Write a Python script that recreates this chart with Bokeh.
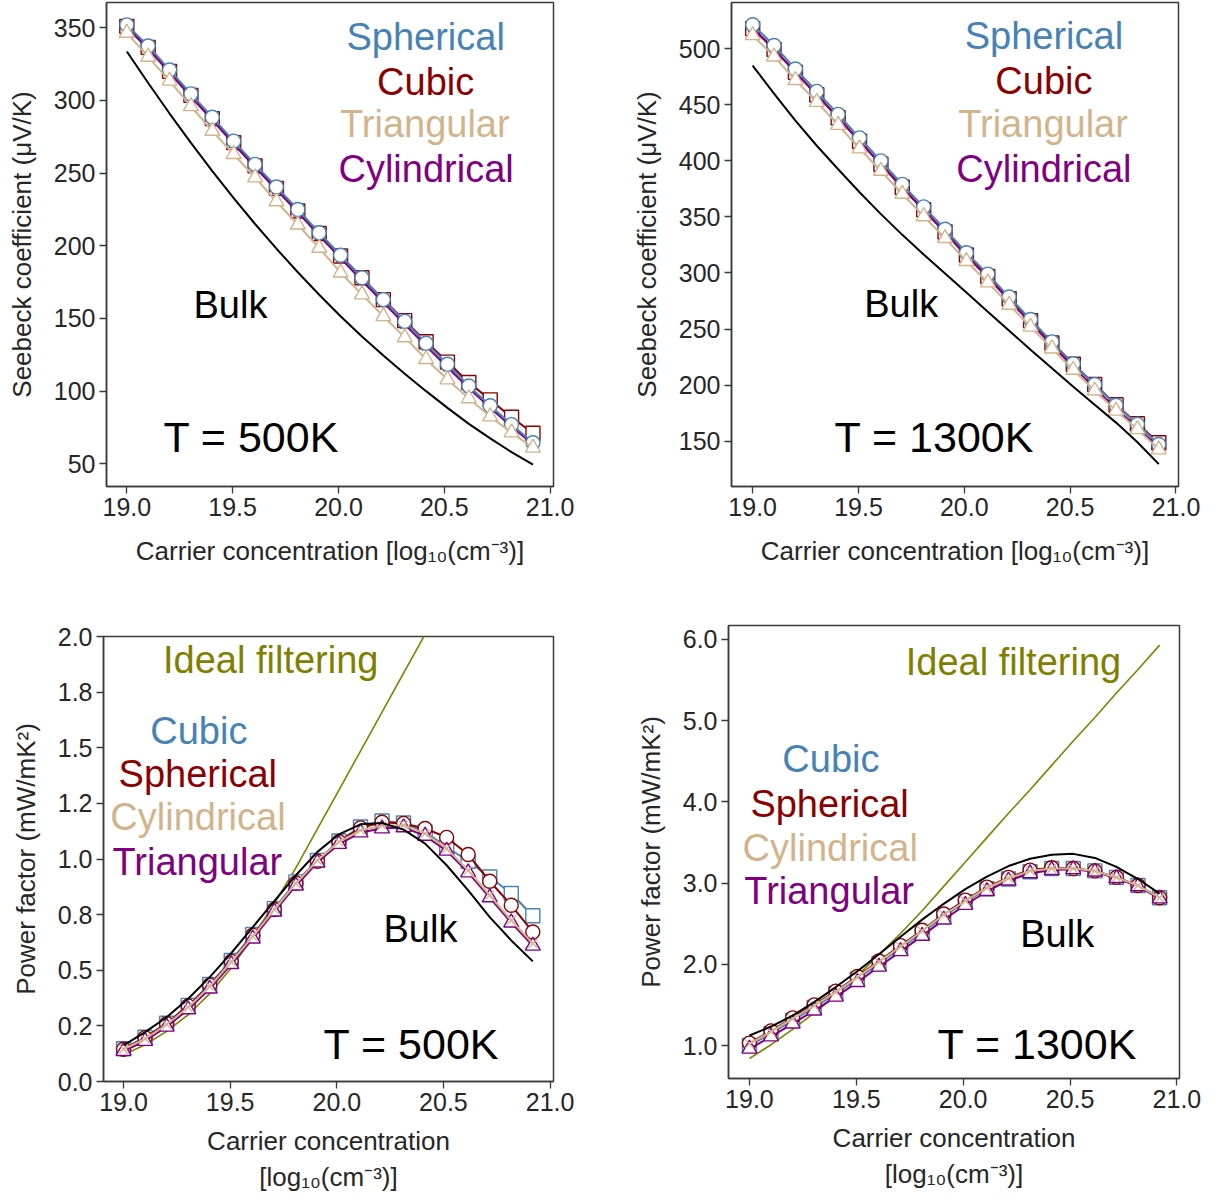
from bokeh.plotting import figure
from bokeh.layouts import column, row
from bokeh.models import Label, FixedTicker, Range1d
from bokeh.embed import file_html
from bokeh.resources import INLINE

# ---------------- data ----------------
carrier = [19.000, 19.101, 19.202, 19.303, 19.404, 19.505, 19.606, 19.707, 19.808, 19.909,
           20.010, 20.111, 20.212, 20.313, 20.414, 20.515, 20.616, 20.717, 20.818, 20.919]

# Seebeck coefficient (uV/K), T = 500 K
s500_spherical = [352, 337.5, 321, 304.5, 288.5, 272, 256, 240.5, 225, 209,
                  193.5, 178, 163, 148, 133, 118.5, 103.5, 90, 77, 64.5]
s500_cubic = [351, 336.5, 320, 303.5, 287.5, 271, 255, 239.5, 224, 208.5,
              193, 178, 163, 148.5, 134, 120, 106, 94, 82, 71]
s500_triangular = [346.5, 330, 313.5, 296, 279, 263, 247, 230.5, 214.5, 198.5,
                   181.5, 166.5, 151.5, 137, 122, 108, 95, 82.5, 71.5, 61]
s500_cylindrical = [350, 335.5, 319, 302.5, 286.5, 270, 254, 238.5, 223, 207,
                    191.5, 176, 161, 146, 131, 116.5, 102, 88.5, 75.5, 63.5]
s500_bulk = [333.7, 312, 291, 270.8, 251.4, 232.8, 215, 198, 181.8, 166.3,
             151.5, 137.6, 124.5, 112, 100, 88.5, 77.5, 67.5, 58, 49.5]

# Seebeck coefficient (uV/K), T = 1300 K
s1300_spherical = [521.5, 503, 482, 462, 441.5, 420.5, 400, 379, 359, 339,
                   318, 299, 278.5, 258.5, 238.5, 219, 200.5, 182, 165, 147]
s1300_cubic = [518, 499.5, 479, 459, 438.5, 417.5, 397, 376.5, 356.5, 336.5,
               316, 297, 277, 257.5, 237.5, 218.5, 200.5, 182.5, 165.5, 148.5]
s1300_triangular = [512, 493, 472, 452.5, 432, 411, 391, 370.5, 350.5, 331,
                    310.5, 291.5, 271.5, 252, 232.5, 213.5, 195, 177, 160.5, 142.5]
s1300_cylindrical = [518.5, 500, 479, 459, 438.5, 417.5, 397, 376, 356, 336,
                     315, 296, 275.5, 255.5, 235.5, 216, 197.5, 179, 162, 144.5]
s1300_bulk = [485, 460, 436, 413.5, 392.5, 372, 352.5, 334, 316.5, 299.5,
              282.5, 265.5, 248.5, 231.5, 215, 198.5, 182.5, 166.5, 149, 129.5]

# Power factor (mW/mK^2), T = 500 K
pf500_cubic = [0.147, 0.199, 0.262, 0.342, 0.436, 0.544, 0.661, 0.777, 0.897, 0.994,
               1.081, 1.144, 1.171, 1.162, 1.122, 1.054, 0.990, 0.919, 0.845, 0.745]
pf500_spherical = [0.145, 0.197, 0.260, 0.340, 0.433, 0.540, 0.657, 0.773, 0.892, 0.990,
                   1.078, 1.140, 1.165, 1.160, 1.137, 1.097, 1.020, 0.900, 0.792, 0.672]
pf500_cylindrical = [0.145, 0.192, 0.256, 0.334, 0.427, 0.537, 0.652, 0.773, 0.890, 0.994,
                     1.077, 1.129, 1.150, 1.152, 1.114, 1.047, 0.949, 0.837, 0.724, 0.620]
pf500_triangular = [0.137, 0.182, 0.246, 0.324, 0.417, 0.527, 0.642, 0.763, 0.880, 0.984,
                    1.067, 1.119, 1.137, 1.142, 1.104, 1.037, 0.939, 0.827, 0.714, 0.610]
pf500_bulk = [0.162, 0.222, 0.289, 0.372, 0.469, 0.577, 0.694, 0.811, 0.927, 1.032,
              1.111, 1.156, 1.162, 1.132, 1.069, 0.972, 0.859, 0.739, 0.634, 0.540]
pf500_ideal = [0.120, 0.165, 0.225, 0.300, 0.395, 0.510, 0.650, 0.800, 0.960, 1.135,
               1.310, 1.485, 1.660, 1.835, 2.010, 2.185, 2.360, 2.535, 2.710, 2.885]

# Power factor (mW/mK^2), T = 1300 K
pf1300_cubic = [1.00, 1.15, 1.31, 1.47, 1.64, 1.82, 2.01, 2.20, 2.39, 2.59,
                2.77, 2.93, 3.05, 3.14, 3.18, 3.18, 3.15, 3.07, 2.97, 2.82]
pf1300_spherical = [1.03, 1.18, 1.34, 1.50, 1.67, 1.85, 2.04, 2.23, 2.42, 2.62,
                    2.79, 2.95, 3.07, 3.16, 3.19, 3.18, 3.15, 3.07, 2.97, 2.82]
pf1300_cylindrical = [1.02, 1.17, 1.33, 1.49, 1.66, 1.84, 2.03, 2.22, 2.41, 2.61,
                      2.78, 2.94, 3.06, 3.15, 3.18, 3.18, 3.15, 3.07, 2.97, 2.82]
pf1300_triangular = [0.96, 1.11, 1.27, 1.43, 1.60, 1.78, 1.97, 2.16, 2.35, 2.55,
                     2.73, 2.90, 3.03, 3.12, 3.16, 3.17, 3.14, 3.06, 2.96, 2.81]
pf1300_bulk = [1.123, 1.234, 1.369, 1.535, 1.720, 1.915, 2.125, 2.340, 2.550, 2.745,
               2.925, 3.080, 3.210, 3.300, 3.350, 3.360, 3.310, 3.200, 3.050, 2.870]
pf1300_ideal = [0.84, 1.01, 1.20, 1.40, 1.62, 1.86, 2.12, 2.38, 2.66, 2.96,
                3.26, 3.56, 3.86, 4.15, 4.45, 4.75, 5.04, 5.34, 5.63, 5.93]

x_ticks = [19.0, 19.5, 20.0, 20.5, 21.0]
x_tick_labels = ["19.0", "19.5", "20.0", "20.5", "21.0"]
s500_ticks = [50, 100, 150, 200, 250, 300, 350]
s500_tick_labels = ["50", "100", "150", "200", "250", "300", "350"]
s1300_ticks = [150, 200, 250, 300, 350, 400, 450, 500]
s1300_tick_labels = ["150", "200", "250", "300", "350", "400", "450", "500"]
pf500_ticks = [0.0, 0.25, 0.5, 0.75, 1.0, 1.25, 1.5, 1.75, 2.0]
pf500_tick_labels = ["0.0", "0.2", "0.5", "0.8", "1.0", "1.2", "1.5", "1.8", "2.0"]
pf1300_ticks = [1.0, 2.0, 3.0, 4.0, 5.0, 6.0]
pf1300_tick_labels = ["1.0", "2.0", "3.0", "4.0", "5.0", "6.0"]

# ---------------- style ----------------
FONT = "Liberation Sans"
TXT = "#262626"
SPINE = "#3a3a3a"
BLUE, RED, TAN, PURPLE, OLIVE = "#4682b4", "#8b0000", "#d2b48c", "#800080", "#808000"
XLABEL1 = "Carrier concentration [log\u2081\u2080(cm\u207b\u00b3)]"
XLABEL2 = "Carrier concentration\n[log\u2081\u2080(cm\u207b\u00b3)]"
LEG = "38px"
TEMP = "43px"


def make_fig(xr, yr, fw, fh, bl, br, bt, bb, yticks, ylabels, ylabel, xlabel, xstand):
    p = figure(frame_width=fw, frame_height=fh,
               min_border_left=bl, min_border_right=br,
               min_border_top=bt, min_border_bottom=bb,
               x_range=Range1d(*xr), y_range=Range1d(*yr),
               output_backend="svg", toolbar_location=None, tools="")
    p.grid.visible = False
    p.outline_line_color = SPINE
    p.outline_line_width = 1.5
    p.outline_line_alpha = 1.0
    p.background_fill_color = "white"
    p.border_fill_color = "white"
    for ax in (p.xaxis[0], p.yaxis[0]):
        ax.axis_line_color = SPINE
        ax.axis_line_width = 1.5
        ax.major_tick_line_color = SPINE
        ax.major_tick_line_width = 1.3
        ax.major_tick_out = 7
        ax.major_tick_in = 0
        ax.minor_tick_line_color = None
        ax.major_label_text_font = FONT
        ax.major_label_text_font_size = "25px"
        ax.major_label_text_color = TXT
        ax.major_label_standoff = 4
        ax.axis_label_text_font = FONT
        ax.axis_label_text_font_size = "26px"
        ax.axis_label_text_font_style = "normal"
        ax.axis_label_text_color = TXT
    p.xaxis[0].ticker = FixedTicker(ticks=x_ticks)
    p.xaxis[0].major_label_overrides = dict(zip(x_ticks, x_tick_labels))
    p.yaxis[0].ticker = FixedTicker(ticks=yticks)
    p.yaxis[0].major_label_overrides = dict(zip(yticks, ylabels))
    p.xaxis[0].axis_label = xlabel
    p.yaxis[0].axis_label = ylabel
    p.xaxis[0].axis_label_standoff = xstand
    p.yaxis[0].axis_label_standoff = 14
    return p


def series(p, y, color, marker, size):
    p.line(carrier, y, line_color=color, line_width=2)
    if marker == "x":
        p.scatter(carrier, y, marker="x", size=size, line_color=color, line_width=1.3)
    else:
        p.scatter(carrier, y, marker=marker, size=size, line_color=color,
                  fill_color="white", line_width=1.4)


def label(p, x, y, text, color, size, align):
    # y_offset lifts the text baseline to where the reference draws it
    p.add_layout(Label(x=x, y=y, y_offset=13, text=text, text_font=FONT,
                       text_font_size=size, text_color=color, text_align=align,
                       text_baseline="alphabetic"))


# ---------------- panel 1: Seebeck 500K ----------------
p1 = make_fig((18.904, 21.016), (34.4, 367.4), 447, 484, 106, 57, 2, 114,
              s500_ticks, s500_tick_labels, "Seebeck coefficient (\u03bcV/K)", XLABEL1, 17)
series(p1, s500_cubic, RED, "square", 14)
series(p1, s500_cylindrical, PURPLE, "x", 12)
series(p1, s500_spherical, BLUE, "circle", 14)
series(p1, s500_triangular, TAN, "triangle", 15)
p1.line(carrier, s500_bulk, line_color="black", line_width=2)
label(p1, 20.412, 334.4, "Spherical", BLUE, LEG, "center")
label(p1, 20.412, 303.9, "Cubic", RED, LEG, "center")
label(p1, 20.408, 274.8, "Triangular", TAN, LEG, "center")
label(p1, 20.414, 243.8, "Cylindrical", PURPLE, LEG, "center")
label(p1, 19.315, 150.6, "Bulk", "black", LEG, "left")
label(p1, 19.173, 59.3, "T = 500K", "black", TEMP, "left")

# ---------------- panel 2: Seebeck 1300K ----------------
p2 = make_fig((18.9, 21.012), (109.5, 541.3), 447, 484, 121, 39, 2, 114,
              s1300_ticks, s1300_tick_labels, "Seebeck coefficient (\u03bcV/K)", XLABEL1, 17)
series(p2, s1300_cubic, RED, "square", 14)
series(p2, s1300_cylindrical, PURPLE, "x", 12)
series(p2, s1300_spherical, BLUE, "circle", 14)
series(p2, s1300_triangular, TAN, "triangle", 15)
p2.line(carrier, s1300_bulk, line_color="black", line_width=2)
label(p2, 20.376, 499.4, "Spherical", BLUE, LEG, "center")
label(p2, 20.376, 459.7, "Cubic", RED, LEG, "center")
label(p2, 20.372, 421.1, "Triangular", TAN, LEG, "center")
label(p2, 20.376, 381.0, "Cylindrical", PURPLE, LEG, "center")
label(p2, 19.527, 260.6, "Bulk", "black", LEG, "left")
label(p2, 19.387, 141.7, "T = 1300K", "black", TEMP, "left")

# ---------------- panel 3: Power factor 500K ----------------
p3 = make_fig((18.906, 21.016), (0.0, 2.0), 450, 445, 103, 57, 36, 113,
              pf500_ticks, pf500_tick_labels, "Power factor (mW/mK\u00b2)", XLABEL2, 12)
p3.line(carrier, pf500_ideal, line_color=OLIVE, line_width=1.6)
series(p3, pf500_cubic, BLUE, "square", 14)
series(p3, pf500_spherical, RED, "circle", 14)
series(p3, pf500_triangular, PURPLE, "triangle", 15)
series(p3, pf500_cylindrical, TAN, "x", 12)
p3.line(carrier, pf500_bulk, line_color="black", line_width=2)
label(p3, 19.69, 1.834, "Ideal filtering", OLIVE, LEG, "center")
label(p3, 19.353, 1.519, "Cubic", BLUE, LEG, "center")
label(p3, 19.348, 1.324, "Spherical", RED, LEG, "center")
label(p3, 19.349, 1.129, "Cylindrical", TAN, LEG, "center")
label(p3, 19.346, 0.927, "Triangular", PURPLE, LEG, "center")
label(p3, 20.219, 0.627, "Bulk", "black", LEG, "left")
label(p3, 19.938, 0.109, "T = 500K", "black", TEMP, "left")

# ---------------- panel 4: Power factor 1300K ----------------
p4 = make_fig((18.902, 21.012), (0.594, 6.172), 451, 453, 118, 38, 25, 116,
              pf1300_ticks, pf1300_tick_labels, "Power factor (mW/mK\u00b2)", XLABEL2, 12)
p4.line(carrier, pf1300_ideal, line_color=OLIVE, line_width=1.6)
series(p4, pf1300_cubic, BLUE, "square", 14)
series(p4, pf1300_spherical, RED, "circle", 14)
series(p4, pf1300_triangular, PURPLE, "triangle", 15)
series(p4, pf1300_cylindrical, TAN, "x", 12)
p4.line(carrier, pf1300_bulk, line_color="black", line_width=2)
label(p4, 20.235, 5.557, "Ideal filtering", OLIVE, LEG, "center")
label(p4, 19.381, 4.366, "Cubic", BLUE, LEG, "center")
label(p4, 19.375, 3.811, "Spherical", RED, LEG, "center")
label(p4, 19.378, 3.278, "Cylindrical", TAN, LEG, "center")
label(p4, 19.373, 2.745, "Triangular", PURPLE, LEG, "center")
label(p4, 20.267, 2.211, "Bulk", "black", LEG, "left")
label(p4, 19.88, 0.856, "T = 1300K", "black", TEMP, "left")

layout = column(row(column(p1), column(p2), spacing=0),
                row(column(p3), column(p4), spacing=0), spacing=0)
open("out.html", "w").write(file_html(layout, INLINE, "Seebeck and power factor"))
